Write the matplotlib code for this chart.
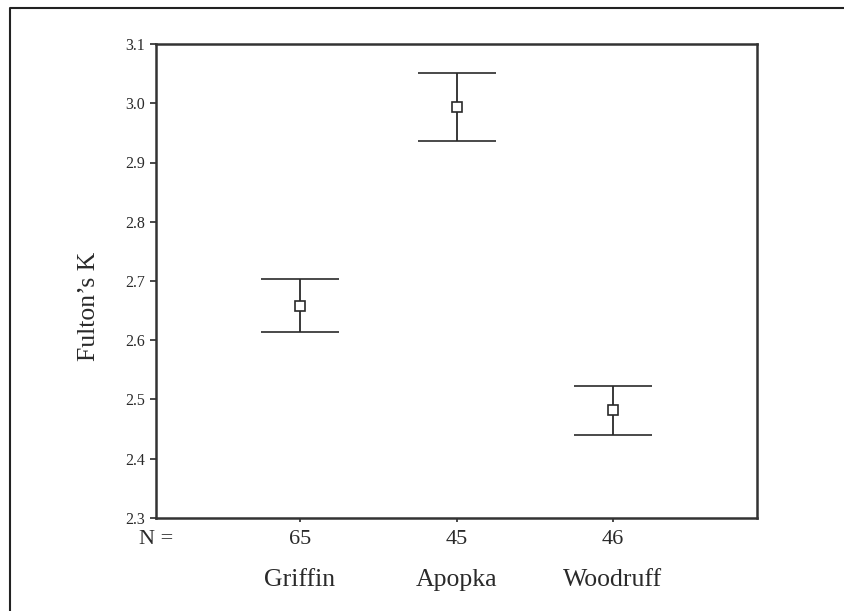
import matplotlib
matplotlib.use("Agg")
import matplotlib.pyplot as plt
from matplotlib.lines import Line2D
from matplotlib import transforms

# data
sites = ["Griffin", "Apopka", "Woodruff"]
n_fish = [65, 45, 46]
mean_k = [2.658, 2.993, 2.482]
upper_k = [2.703, 3.051, 2.523]
lower_k = [2.614, 2.936, 2.440]
y_ticks = [2.3, 2.4, 2.5, 2.6, 2.7, 2.8, 2.9, 3.0, 3.1]

plt.rcParams["font.family"] = ["Liberation Serif", "DejaVu Serif"]
ink = "#2a2a2a"

fig = plt.figure(figsize=(8.45, 6.11), dpi=100)
ax = fig.add_axes([156 / 845, 93 / 611, 601 / 845, 474 / 611])

x = list(range(1, len(sites) + 1))
err_lo = [m - lo for m, lo in zip(mean_k, lower_k)]
err_hi = [hi - m for m, hi in zip(mean_k, upper_k)]
ax.errorbar(
    x,
    mean_k,
    yerr=[err_lo, err_hi],
    fmt="s",
    color=ink,
    ecolor=ink,
    elinewidth=1.3,
    capsize=28,
    capthick=1.7,
    markersize=7,
    markerfacecolor="white",
    markeredgecolor=ink,
    markeredgewidth=1.2,
)

ax.set_xlim(0.08, 3.92)
ax.set_ylim(2.3, 3.1)
ax.set_yticks(y_ticks)
ax.set_yticklabels(["{:.1f}".format(v) for v in y_ticks], fontsize=11.5, color=ink)
ax.set_xticks(x)
ax.set_xticklabels([str(n) for n in n_fish], fontsize=16, color=ink)
ax.tick_params(axis="y", direction="out", length=4, width=1.2, color=ink, pad=4)
ax.tick_params(axis="x", direction="out", length=3, width=1.2, color=ink, pad=6)
for s in ax.spines.values():
    s.set_linewidth(1.8)
    s.set_color("#333333")

# y label sits a little below the axis middle, as in the original
ax.set_ylabel("Fulton\u2019s K", fontsize=18.5, color=ink)
ax.yaxis.set_label_coords(-(156 - 100) / 601, (518 - 306) / 474)

trans = transforms.blended_transform_factory(ax.transData, fig.transFigure)
for xi, name in zip(x, sites):
    ax.text(xi, 1 - 580 / 611, name, transform=trans, ha="center", va="center",
            fontsize=18.5, color=ink)
ax.text(0.0, 1 - 540 / 611, "N =", transform=transforms.blended_transform_factory(
    ax.transAxes, fig.transFigure), ha="center", va="center", fontsize=16, color=ink)

# scanned page frame (top and left edges)
fig.add_artist(Line2D([10 / 845, 10 / 845, 1.0], [0.0, 1 - 8 / 611, 1 - 8 / 611],
                      transform=fig.transFigure, color="#222222", linewidth=1.5))

fig.savefig("out.png", dpi=100)
